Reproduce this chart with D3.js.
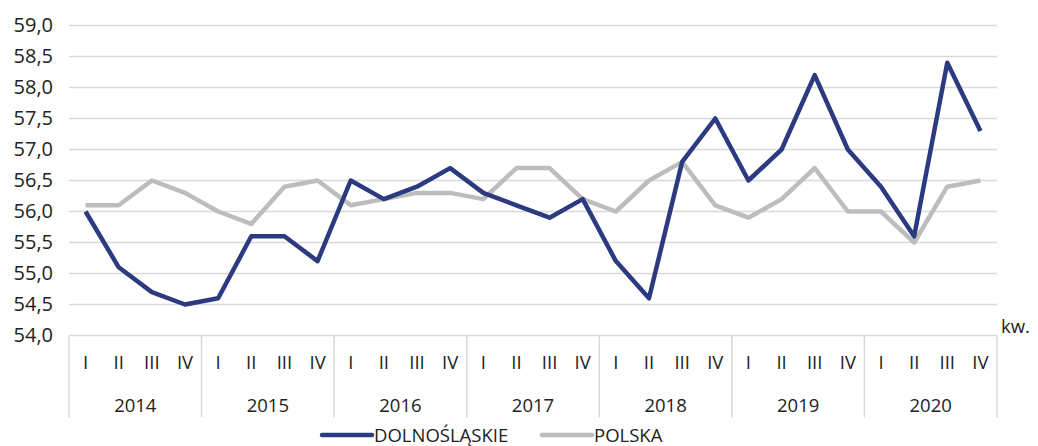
<!DOCTYPE html>
<html>
<head>
<meta charset="utf-8">
<script src="https://cdn.jsdelivr.net/npm/d3@7"></script>
<style>
  body { margin: 0; background: #fff; }
  svg text { font-family: "Open Sans", "Noto Sans", sans-serif; fill: #222; }
</style>
</head>
<body>
<div id="chart"></div>
<script>
const years = ['2014', '2015', '2016', '2017', '2018', '2019', '2020'];
const quarters = ['I', 'II', 'III', 'IV'];
const dolnoslaskie = [
  56.0, 55.1, 54.7, 54.5,
  54.6, 55.6, 55.6, 55.2,
  56.5, 56.2, 56.4, 56.7,
  56.3, 56.1, 55.9, 56.2,
  55.2, 54.6, 56.8, 57.5,
  56.5, 57.0, 58.2, 57.0,
  56.4, 55.6, 58.4, 57.3
];
const polska = [
  56.1, 56.1, 56.5, 56.3,
  56.0, 55.8, 56.4, 56.5,
  56.1, 56.2, 56.3, 56.3,
  56.2, 56.7, 56.7, 56.2,
  56.0, 56.5, 56.8, 56.1,
  55.9, 56.2, 56.7, 56.0,
  56.0, 55.5, 56.4, 56.5
];
const yTicks = [54, 54.5, 55, 55.5, 56, 56.5, 57, 57.5, 58, 58.5, 59];

const width = 1038;
const height = 446;
const margin = { left: 69, right: 41, top: 25.5, bottom: 110.5 };
const innerW = width - margin.left - margin.right;
const innerH = height - margin.top - margin.bottom;

const svg = d3.select('#chart').append('svg')
  .attr('width', width)
  .attr('height', height);

const g = svg.append('g').attr('transform', `translate(${margin.left},${margin.top})`);

const keys = [];
years.forEach(y => quarters.forEach(q => keys.push(`${y}-${q}`)));

const x = d3.scaleBand().domain(keys).range([0, innerW]);
const xYear = d3.scaleBand().domain(years).range([0, innerW]);
const y = d3.scaleLinear().domain([54, 59]).range([innerH, 0]);

// gridlines
g.append('g')
  .selectAll('line')
  .data(yTicks)
  .join('line')
  .attr('x1', 0)
  .attr('x2', innerW)
  .attr('y1', d => y(d))
  .attr('y2', d => y(d))
  .attr('stroke', '#d9d9d9')
  .attr('stroke-width', 1.5);

// y axis labels
const yAxis = d3.axisLeft(y)
  .tickValues(yTicks)
  .tickSize(0)
  .tickPadding(16)
  .tickFormat(d => d3.format('.1f')(d).replace('.', ','));
g.append('g')
  .call(yAxis)
  .call(s => s.select('.domain').remove())
  .attr('font-family', null)
  .selectAll('text')
  .style('font-size', '20px');

// category axis: year separators
const sepBottom = innerH + 82;
const bounds = years.map(d => xYear(d)).concat([innerW]);
g.append('g')
  .selectAll('line')
  .data(bounds)
  .join('line')
  .attr('x1', d => d)
  .attr('x2', d => d)
  .attr('y1', innerH)
  .attr('y2', sepBottom)
  .attr('stroke', '#d9d9d9')
  .attr('stroke-width', 1.5);

// quarter labels
g.append('g')
  .selectAll('text')
  .data(keys)
  .join('text')
  .attr('x', d => x(d) + x.bandwidth() / 2)
  .attr('y', innerH + 33)
  .attr('text-anchor', 'middle')
  .style('font-size', '18.5px')
  .text(d => d.split('-')[1]);

// year labels
g.append('g')
  .selectAll('text')
  .data(years)
  .join('text')
  .attr('x', d => xYear(d) + xYear.bandwidth() / 2)
  .attr('y', innerH + 76)
  .attr('text-anchor', 'middle')
  .style('font-size', '18.5px')
  .text(d => d);

// unit label
g.append('text')
  .attr('x', innerW + 4)
  .attr('y', innerH - 3)
  .style('font-size', '18.5px')
  .text('kw.');

// lines
const line = d3.line()
  .x((d, i) => x(keys[i]) + x.bandwidth() / 2)
  .y(d => y(d));

const series = [
  { name: 'DOLNOŚLĄSKIE', values: dolnoslaskie, color: '#2c3a80' },
  { name: 'POLSKA', values: polska, color: '#bdbdbd' }
];

series.slice().reverse().forEach(s => {
  g.append('path')
    .datum(s.values)
    .attr('d', line)
    .attr('fill', 'none')
    .attr('stroke', s.color)
    .attr('stroke-width', 4.5)
    .attr('stroke-linejoin', 'round');
});

// legend
const legend = svg.append('g').attr('transform', 'translate(322, 435)');
const legendX = [0, 220];
series.forEach((s, i) => {
  const lg = legend.append('g').attr('transform', `translate(${legendX[i]},0)`);
  lg.append('line')
    .attr('x1', 0)
    .attr('x2', 50)
    .attr('y1', 0)
    .attr('y2', 0)
    .attr('stroke', s.color)
    .attr('stroke-width', 4.5)
    .attr('stroke-linecap', 'round');
  lg.append('text')
    .attr('x', 52)
    .attr('y', 6.5)
    .style('font-size', '18.5px')
    .text(s.name);
});
</script>
</body>
</html>
